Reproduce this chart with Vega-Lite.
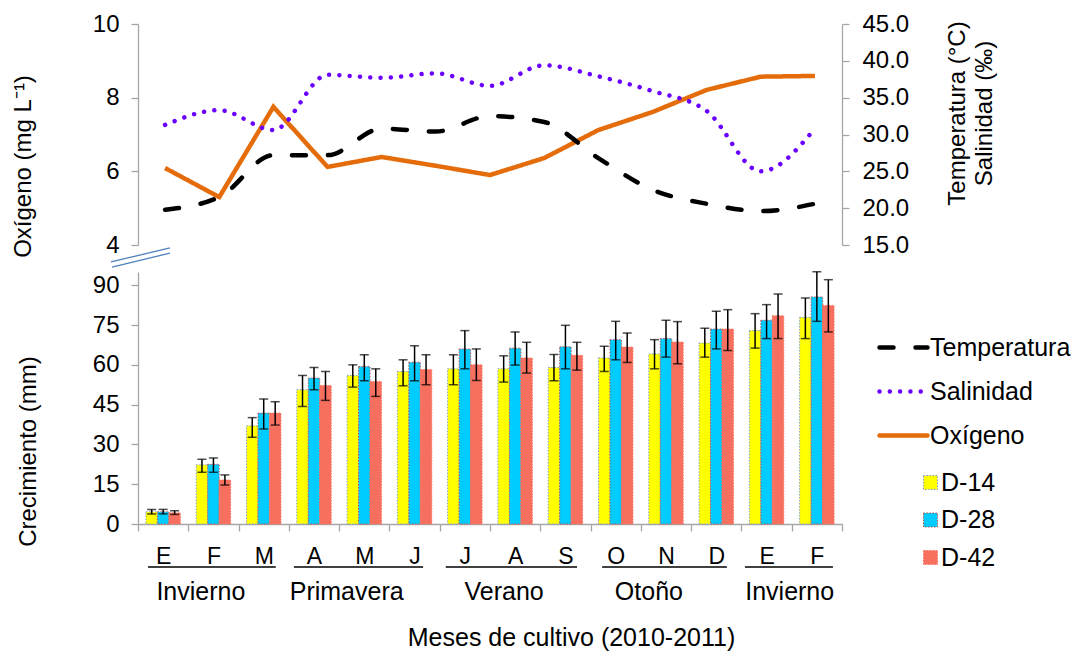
{
  "$schema": "https://vega.github.io/schema/vega-lite/v6.json",
  "autosize": {"type": "none"},
  "padding": {"left": 138, "top": 24, "right": 933, "bottom": 627},
  "spacing": 27,
  "bounds": "flush",
  "config": {
    "view": {"stroke": null},
    "font": "Liberation Sans",
    "axis": {"grid": false, "domainColor": "#a6a6a6", "tickColor": "#a6a6a6", "tickSize": 7, "domainWidth": 1.3, "tickWidth": 1.3, "labelFont": "Liberation Sans", "labelFontSize": 24, "labelColor": "#000000", "titleFont": "Liberation Sans", "titleFontSize": 24, "titleFontWeight": "normal", "titleColor": "#000000"},
    "legend": {"labelFont": "Liberation Sans", "labelFontSize": 25, "labelColor": "#000000", "labelLimit": 300}
  },
  "resolve": {
    "scale": {"color": "independent", "strokeDash": "independent", "strokeWidth": "independent", "stroke": "independent"},
    "legend": {"color": "independent", "strokeDash": "independent", "strokeWidth": "independent", "stroke": "independent"}
  },
  "vconcat": [
    {
      "width": 704,
      "height": 221,
      "layer": [
        {
          "layer": [
            {
              "data": {"values": [
                {"i": 0, "serie": "Oxígeno", "val": 6.09},
                {"i": 1, "serie": "Oxígeno", "val": 5.30},
                {"i": 2, "serie": "Oxígeno", "val": 7.75},
                {"i": 3, "serie": "Oxígeno", "val": 6.12},
                {"i": 4, "serie": "Oxígeno", "val": 6.39},
                {"i": 5, "serie": "Oxígeno", "val": 6.15},
                {"i": 6, "serie": "Oxígeno", "val": 5.90},
                {"i": 7, "serie": "Oxígeno", "val": 6.36},
                {"i": 8, "serie": "Oxígeno", "val": 7.12},
                {"i": 9, "serie": "Oxígeno", "val": 7.61},
                {"i": 10, "serie": "Oxígeno", "val": 8.21},
                {"i": 11, "serie": "Oxígeno", "val": 8.57},
                {"i": 12, "serie": "Oxígeno", "val": 8.59}
              ]},
              "mark": {"type": "line", "strokeJoin": "miter"},
              "encoding": {
                "x": {"field": "i", "type": "quantitative", "scale": {"domain": [-0.5, 12.5], "nice": false, "zero": false}, "axis": null},
                "y": {"field": "val", "type": "quantitative", "scale": {"domain": [4, 10], "nice": false, "zero": false},
                  "axis": {"values": [4, 6, 8, 10], "title": "Oxígeno (mg L⁻¹)", "titleAngle": 270, "titleX": -108, "titleY": 142, "titleBaseline": "alphabetic", "titleAlign": "center", "labelPadding": 12}},
                "color": {"field": "serie", "type": "nominal",
                  "scale": {"domain": ["Temperatura", "Salinidad", "Oxígeno"], "range": ["#000000", "#6A00FF", "#E46C0A"]},
                  "legend": {"orient": "none", "legendX": 739, "legendY": 297, "title": null, "symbolType": "stroke", "symbolSize": 2304, "labelOffset": 0, "rowPadding": 4,
                    "encode": {"symbols": {"update": {"strokeCap": {"value": "round"}}}}}},
                "strokeDash": {"field": "serie", "type": "nominal", "scale": {"domain": ["Temperatura", "Salinidad", "Oxígeno"], "range": [[14, 22], [0.01, 10.3], [1, 0]]}},
                "strokeWidth": {"field": "serie", "type": "nominal", "scale": {"domain": ["Temperatura", "Salinidad", "Oxígeno"], "range": [4.5, 4.5, 3]}}
              }
            },
            {
              "data": {"values": [
                {"xa": -1.0, "xb": 0.09, "ya": 3.54, "yb": 3.92},
                {"xa": -0.98, "xb": 0.09, "ya": 3.40, "yb": 3.78}
              ]},
              "mark": {"type": "rule", "color": "#4F81BD", "strokeWidth": 1.3},
              "encoding": {
                "x": {"field": "xa", "type": "quantitative", "axis": null},
                "x2": {"field": "xb"},
                "y": {"field": "ya", "type": "quantitative", "title": "Oxígeno (mg L⁻¹)"},
                "y2": {"field": "yb"}
              }
            }
          ]
        },
        {
          "data": {"values": [
            {"i": 0, "serie": "Temperatura", "val": 19.8},
            {"i": 1, "serie": "Temperatura", "val": 21.5},
            {"i": 2, "serie": "Temperatura", "val": 27.2},
            {"i": 3, "serie": "Temperatura", "val": 27.2},
            {"i": 4, "serie": "Temperatura", "val": 30.8},
            {"i": 5, "serie": "Temperatura", "val": 30.4},
            {"i": 6, "serie": "Temperatura", "val": 32.5},
            {"i": 7, "serie": "Temperatura", "val": 31.7},
            {"i": 8, "serie": "Temperatura", "val": 26.8},
            {"i": 9, "serie": "Temperatura", "val": 22.5},
            {"i": 10, "serie": "Temperatura", "val": 20.6},
            {"i": 11, "serie": "Temperatura", "val": 19.6},
            {"i": 12, "serie": "Temperatura", "val": 20.6},
            {"i": 0, "serie": "Salinidad", "val": 31.3},
            {"i": 1, "serie": "Salinidad", "val": 33.3},
            {"i": 2, "serie": "Salinidad", "val": 30.6},
            {"i": 3, "serie": "Salinidad", "val": 38.1},
            {"i": 4, "serie": "Salinidad", "val": 37.7},
            {"i": 5, "serie": "Salinidad", "val": 38.3},
            {"i": 6, "serie": "Salinidad", "val": 36.6},
            {"i": 7, "serie": "Salinidad", "val": 39.4},
            {"i": 8, "serie": "Salinidad", "val": 37.9},
            {"i": 9, "serie": "Salinidad", "val": 35.9},
            {"i": 10, "serie": "Salinidad", "val": 33.2},
            {"i": 11, "serie": "Salinidad", "val": 25.0},
            {"i": 12, "serie": "Salinidad", "val": 30.8}
          ]},
          "mark": {"type": "line", "interpolate": "monotone", "strokeCap": "round"},
          "encoding": {
            "x": {"field": "i", "type": "quantitative", "axis": null},
            "y": {"field": "val", "type": "quantitative", "scale": {"domain": [15, 45], "nice": false, "zero": false},
              "axis": {"orient": "right", "values": [15, 20, 25, 30, 35, 40, 45], "format": ".1f", "title": ["Temperatura (°C)", "Salinidad (‰)"], "titleAngle": 270, "titleX": 122, "titleY": 89, "titleBaseline": "alphabetic", "titleAlign": "center", "titleLineHeight": 27, "labelPadding": 13}},
            "color": {"field": "serie", "type": "nominal", "scale": {"domain": ["Temperatura", "Salinidad", "Oxígeno"], "range": ["#000000", "#6A00FF", "#E46C0A"]}},
            "strokeDash": {"field": "serie", "type": "nominal", "scale": {"domain": ["Temperatura", "Salinidad", "Oxígeno"], "range": [[14, 22], [0.01, 10.3], [1, 0]]}},
            "strokeWidth": {"field": "serie", "type": "nominal", "scale": {"domain": ["Temperatura", "Salinidad", "Oxígeno"], "range": [4.5, 4.5, 3]}}
          }
        }
      ],
      "resolve": {"scale": {"y": "independent"}}
    },
    {
      "width": 704,
      "height": 252,
      "layer": [
        {
          "data": {"values": [
            {"m": 1, "g": "D-14", "v": 4.6, "lo": 3.8, "hi": 5.5},
            {"m": 1, "g": "D-28", "v": 4.6, "lo": 3.8, "hi": 5.5},
            {"m": 1, "g": "D-42", "v": 4.2, "lo": 3.6, "hi": 5.0},
            {"m": 2, "g": "D-14", "v": 22.3, "lo": 19.5, "hi": 24.4},
            {"m": 2, "g": "D-28", "v": 22.5, "lo": 19.5, "hi": 24.9},
            {"m": 2, "g": "D-42", "v": 16.6, "lo": 14.7, "hi": 18.5},
            {"m": 3, "g": "D-14", "v": 37.0, "lo": 32.7, "hi": 40.1},
            {"m": 3, "g": "D-28", "v": 41.8, "lo": 35.8, "hi": 47.1},
            {"m": 3, "g": "D-42", "v": 41.8, "lo": 37.3, "hi": 46.1},
            {"m": 4, "g": "D-14", "v": 50.6, "lo": 44.3, "hi": 56.0},
            {"m": 4, "g": "D-28", "v": 55.0, "lo": 50.6, "hi": 59.0},
            {"m": 4, "g": "D-42", "v": 52.2, "lo": 46.6, "hi": 57.5},
            {"m": 5, "g": "D-14", "v": 56.0, "lo": 51.6, "hi": 60.0},
            {"m": 5, "g": "D-28", "v": 59.4, "lo": 54.0, "hi": 63.8},
            {"m": 5, "g": "D-42", "v": 53.7, "lo": 48.1, "hi": 58.5},
            {"m": 6, "g": "D-14", "v": 57.5, "lo": 52.1, "hi": 61.9},
            {"m": 6, "g": "D-28", "v": 61.0, "lo": 54.0, "hi": 67.2},
            {"m": 6, "g": "D-42", "v": 58.2, "lo": 52.5, "hi": 63.8},
            {"m": 7, "g": "D-14", "v": 58.5, "lo": 52.5, "hi": 63.8},
            {"m": 7, "g": "D-28", "v": 66.0, "lo": 58.5, "hi": 72.9},
            {"m": 7, "g": "D-42", "v": 60.0, "lo": 54.1, "hi": 66.0},
            {"m": 8, "g": "D-14", "v": 58.5, "lo": 53.5, "hi": 63.4},
            {"m": 8, "g": "D-28", "v": 66.3, "lo": 59.9, "hi": 72.4},
            {"m": 8, "g": "D-42", "v": 62.6, "lo": 56.9, "hi": 68.5},
            {"m": 9, "g": "D-14", "v": 59.0, "lo": 54.0, "hi": 63.9},
            {"m": 9, "g": "D-28", "v": 66.8, "lo": 58.5, "hi": 74.9},
            {"m": 9, "g": "D-42", "v": 63.6, "lo": 58.0, "hi": 68.5},
            {"m": 10, "g": "D-14", "v": 62.6, "lo": 57.5, "hi": 67.0},
            {"m": 10, "g": "D-28", "v": 69.5, "lo": 61.9, "hi": 76.4},
            {"m": 10, "g": "D-42", "v": 66.7, "lo": 60.9, "hi": 72.0},
            {"m": 11, "g": "D-14", "v": 64.1, "lo": 58.5, "hi": 69.5},
            {"m": 11, "g": "D-28", "v": 69.9, "lo": 62.9, "hi": 76.8},
            {"m": 11, "g": "D-42", "v": 68.6, "lo": 60.4, "hi": 76.3},
            {"m": 12, "g": "D-14", "v": 68.2, "lo": 62.9, "hi": 73.8},
            {"m": 12, "g": "D-28", "v": 73.5, "lo": 66.0, "hi": 80.2},
            {"m": 12, "g": "D-42", "v": 73.5, "lo": 65.4, "hi": 80.8},
            {"m": 13, "g": "D-14", "v": 72.9, "lo": 66.3, "hi": 79.3},
            {"m": 13, "g": "D-28", "v": 76.8, "lo": 69.9, "hi": 82.7},
            {"m": 13, "g": "D-42", "v": 78.5, "lo": 69.9, "hi": 86.7},
            {"m": 14, "g": "D-14", "v": 77.9, "lo": 69.9, "hi": 85.2},
            {"m": 14, "g": "D-28", "v": 85.6, "lo": 76.4, "hi": 95.1},
            {"m": 14, "g": "D-42", "v": 82.4, "lo": 72.4, "hi": 92.1}
          ]},
          "layer": [
            {
              "mark": {"type": "bar", "strokeDash": [1.5, 1.5], "strokeWidth": 1},
              "encoding": {
                "x": {"field": "m", "type": "ordinal", "scale": {"paddingInner": 0, "paddingOuter": 0},
                  "axis": {"labelExpr": "['E','F','M','A','M','J','J','A','S','O','N','D','E','F'][datum.value-1]", "labelAngle": 0, "tickBand": "extent", "labelFontSize": 23, "labelPadding": 14,
                    "title": "Meses de cultivo (2010-2011)", "titleFontSize": 25, "titleX": 433, "titleY": 121, "titleBaseline": "alphabetic", "titleAlign": "center"}},
                "xOffset": {"field": "g", "type": "nominal", "scale": {"paddingInner": 0, "paddingOuter": 0.69}},
                "y": {"field": "v", "type": "quantitative", "scale": {"domain": [0, 95], "nice": false},
                  "axis": {"values": [0, 15, 30, 45, 60, 75, 90], "title": "Crecimiento (mm)", "titleAngle": 270, "titleX": -103, "titleY": 179, "titleBaseline": "alphabetic", "titleAlign": "center", "labelPadding": 12}},
                "color": {"field": "g", "type": "nominal", "scale": {"domain": ["D-14", "D-28", "D-42"], "range": ["#FFFF00", "#00CCFF", "#F7705F"]},
                  "legend": {"orient": "none", "legendX": 780, "legendY": 198, "title": null, "symbolType": "square", "symbolSize": 196, "symbolStrokeWidth": 1, "symbolDash": [1.5, 1.5], "labelOffset": -2, "rowPadding": 11.5}},
                "stroke": {"field": "g", "type": "nominal", "scale": {"domain": ["D-14", "D-28", "D-42"], "range": ["#7F9FCF", "#C0504D", "#F7705F"]}}
              }
            },
            {
              "mark": {"type": "rule", "color": "#000000", "strokeWidth": 1.5},
              "encoding": {
                "x": {"field": "m", "type": "ordinal"},
                "xOffset": {"field": "g", "type": "nominal"},
                "y": {"field": "lo", "type": "quantitative"},
                "y2": {"field": "hi"}
              }
            },
            {
              "mark": {"type": "tick", "color": "#000000", "thickness": 1.5, "size": 9},
              "encoding": {
                "x": {"field": "m", "type": "ordinal"},
                "xOffset": {"field": "g", "type": "nominal"},
                "y": {"field": "lo", "type": "quantitative"}
              }
            },
            {
              "mark": {"type": "tick", "color": "#000000", "thickness": 1.5, "size": 9},
              "encoding": {
                "x": {"field": "m", "type": "ordinal"},
                "xOffset": {"field": "g", "type": "nominal"},
                "y": {"field": "hi", "type": "quantitative"}
              }
            }
          ]
        },
        {
          "data": {"values": [
            {"s": "Invierno", "a": 0.20, "b": 2.74, "c": 1.25},
            {"s": "Primavera", "a": 3.10, "b": 5.67, "c": 4.15},
            {"s": "Verano", "a": 6.12, "b": 8.73, "c": 7.28},
            {"s": "Otoño", "a": 9.23, "b": 11.71, "c": 10.16},
            {"s": "Invierno", "a": 12.07, "b": 13.82, "c": 12.96}
          ]},
          "layer": [
            {
              "mark": {"type": "rule", "color": "#404040", "strokeWidth": 2},
              "encoding": {
                "x": {"field": "a", "type": "quantitative", "scale": {"domain": [0, 14], "nice": false, "zero": false}, "axis": null},
                "x2": {"field": "b"},
                "y": {"datum": -16.2}
              }
            },
            {
              "mark": {"type": "text", "fontSize": 25, "baseline": "alphabetic", "align": "center", "font": "Liberation Sans", "color": "#000000"},
              "encoding": {
                "x": {"field": "c", "type": "quantitative", "axis": null},
                "y": {"datum": -28.7},
                "text": {"field": "s"}
              }
            }
          ]
        }
      ],
      "resolve": {"scale": {"x": "independent"}}
    }
  ]
}
